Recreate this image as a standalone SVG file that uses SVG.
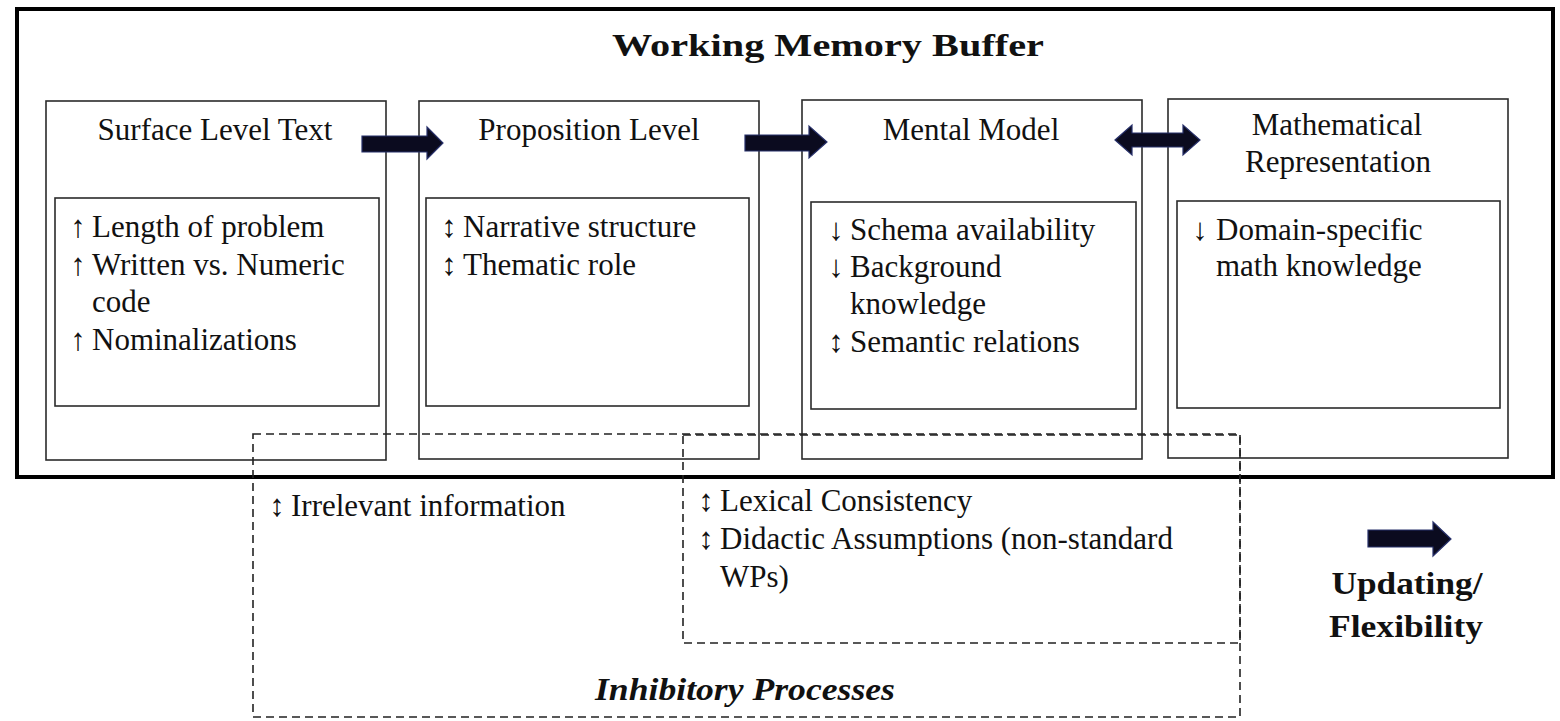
<svg xmlns="http://www.w3.org/2000/svg" width="1560" height="721" viewBox="0 0 1560 721">
<style>
.box{fill:none;stroke:#2b2b2b;stroke-width:1.6}
.t{font-family:"Liberation Serif","Times New Roman",serif;font-size:31px;fill:#111}
.c{text-anchor:middle}
.b{font-weight:bold}
.ar{fill:#0b0b1f;stroke:#27306a;stroke-width:1.2}
.dash{fill:none;stroke:#222;stroke-width:1.6;stroke-dasharray:8 5}
</style>
<rect width="1560" height="721" fill="#fff"/>
<g id="wm-buffer">
<rect x="17" y="9" width="1536" height="468" fill="none" stroke="#000" stroke-width="4"/>
<text class="t b c" x="828" y="56" font-size="39" textLength="432" lengthAdjust="spacingAndGlyphs">Working Memory Buffer</text>
</g>
<g id="surface">
<rect class="box" x="46" y="101" width="340" height="359"/>
<text class="t c" x="215" y="140">Surface Level Text</text>
<rect class="box" x="55" y="198" width="324" height="208"/>
<text class="t c" x="78" y="237">↑</text><text class="t" x="92" y="237">Length of problem</text>
<text class="t c" x="78" y="275">↑</text><text class="t" x="92" y="275">Written vs. Numeric</text>
<text class="t" x="92" y="312">code</text>
<text class="t c" x="78" y="350">↑</text><text class="t" x="92" y="350">Nominalizations</text>
</g>
<g id="proposition">
<rect class="box" x="419" y="101" width="340" height="358"/>
<text class="t c" x="589" y="140">Proposition Level</text>
<rect class="box" x="426" y="198" width="323" height="208"/>
<text class="t c" x="449" y="237">↕</text><text class="t" x="463" y="237">Narrative structure</text>
<text class="t c" x="449" y="275">↕</text><text class="t" x="463" y="275">Thematic role</text>
</g>
<g id="mental">
<rect class="box" x="802" y="100" width="340" height="359"/>
<text class="t c" x="971" y="140">Mental Model</text>
<rect class="box" x="811" y="202" width="325" height="207"/>
<text class="t c" x="836" y="240">↓</text><text class="t" x="850" y="240">Schema availability</text>
<text class="t c" x="836" y="277">↓</text><text class="t" x="850" y="277">Background</text>
<text class="t" x="850" y="314">knowledge</text>
<text class="t c" x="836" y="352">↕</text><text class="t" x="850" y="352">Semantic relations</text>
</g>
<g id="math">
<rect class="box" x="1168" y="99" width="340" height="359"/>
<text class="t c" x="1337" y="135">Mathematical</text>
<text class="t c" x="1338" y="172">Representation</text>
<rect class="box" x="1177" y="201" width="323" height="207"/>
<text class="t c" x="1200" y="240">↓</text><text class="t" x="1216" y="240">Domain-specific</text>
<text class="t" x="1216" y="276">math knowledge</text>
</g>
<g id="inhibitory">
<rect class="dash" x="253" y="434" width="987" height="283"/>
<rect class="dash" x="683" y="435" width="557" height="208" stroke-width="2"/>
<text class="t c" x="277" y="516">↕</text><text class="t" x="291" y="516">Irrelevant information</text>
<text class="t c" x="706" y="511">↕</text><text class="t" x="720" y="511">Lexical Consistency</text>
<text class="t c" x="706" y="549">↕</text><text class="t" x="720" y="549">Didactic Assumptions (non-standard</text>
<text class="t" x="720" y="587">WPs)</text>
<text class="t b c" x="745" y="700" font-size="35" font-style="italic" textLength="300" lengthAdjust="spacingAndGlyphs">Inhibitory Processes</text>
</g>
<g id="legend">
<path class="ar" d="M1368,530 H1433 V522 L1451,539 L1433,556 V547 H1368 Z"/>
<text class="t b c" x="1407" y="594" font-size="35" textLength="151" lengthAdjust="spacingAndGlyphs">Updating/</text>
<text class="t b c" x="1406" y="637" font-size="35" textLength="154" lengthAdjust="spacingAndGlyphs">Flexibility</text>
</g>
<g id="connectors">
<path class="ar" d="M362,136 H427 V127 L443,143 L427,159 V152 H362 Z"/>
<path class="ar" d="M745,135 H809 V126 L827,142 L809,158 V151 H745 Z"/>
<path class="ar" d="M1115,140 L1132,125 V133 H1183 V125 L1200,140 L1183,155 V147 H1132 V155 Z"/>
</g>
</svg>
